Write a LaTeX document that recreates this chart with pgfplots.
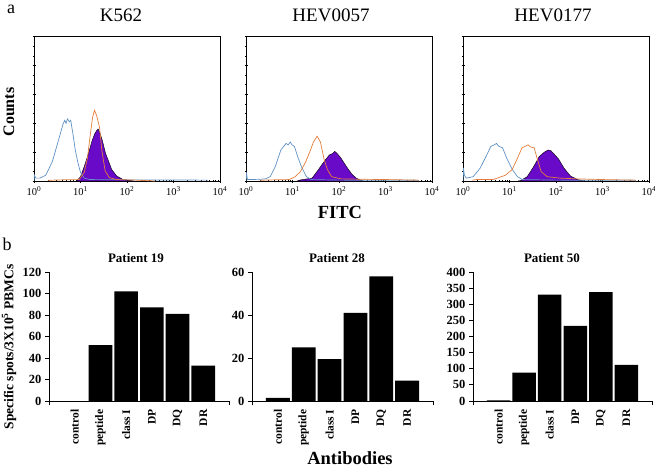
\documentclass[border=0pt]{standalone}
\usepackage{pgfplots}
\pgfplotsset{compat=1.18}
\usepackage{fontspec}
\setmainfont{Liberation Serif}
\definecolor{bl}{RGB}{95,145,195}
\definecolor{or}{RGB}{228,125,60}
\definecolor{pu}{RGB}{105,10,200}
\pgfplotsset{
 histo/.style={scale only axis, width=186pt, height=144.5pt, anchor=south west,
  xmin=0, xmax=4, ymin=0, ymax=100,
  xtick={0,1,2,3,4},
  xticklabels={10\textsuperscript{0},10\textsuperscript{1},10\textsuperscript{2},10\textsuperscript{3},10\textsuperscript{4}},
  minor xtick={0.301,0.477,0.602,0.699,0.778,0.845,0.903,0.954,
    1.301,1.477,1.602,1.699,1.778,1.845,1.903,1.954,
    2.301,2.477,2.602,2.699,2.778,2.845,2.903,2.954,
    3.301,3.477,3.602,3.699,3.778,3.845,3.903,3.954},
  ytick={0,20,...,100}, yticklabels={}, minor y tick num=2,
  xtick pos=bottom, ytick pos=left,
  tick align=center, major tick length=3pt, minor tick length=2pt,
  tick style={black, line width=0.4pt},
  axis line style={line width=0.6pt},
  xticklabel style={font=\fontsize{10.5}{11}\selectfont, yshift=-1pt},
 },
 barc/.style={scale only axis, height=129pt, anchor=south west, ybar, bar width=0.92,
  xmin=-1, xmax=6, ymin=0,
  axis x line*=bottom, axis y line*=left,
  axis line style={-, line width=0.8pt},
  xtick={-1,6}, xticklabels={},
  extra x ticks={0,1,2,3,4,5},
  extra x tick labels={control,peptide,class I,DP,DQ,DR},
  extra x tick style={major tick length=0pt,
    xticklabel style={rotate=90, anchor=east, font=\bfseries\fontsize{11.5}{11.5}\selectfont, xshift=-5pt}},
  tick align=outside, major tick length=4pt,
  tick style={black, line width=0.8pt},
  ytick pos=left,
  /pgf/number format/assume math mode=true,
  yticklabel style={font=\bfseries\fontsize{12.5}{12.5}\selectfont},
 },
}
\begin{document}
\begin{tikzpicture}
\useasboundingbox (0,0) rectangle (655pt,-467pt);
% ---------- a: histograms ----------
\begin{axis}[histo, at={(34pt,-181pt)}]
\addplot[fill=pu, draw=black, line width=0.4pt] coordinates {(0.92,0) (1.0,3) (1.08,10) (1.17,19) (1.25,28) (1.31,33) (1.35,35) (1.38,36) (1.42,33) (1.47,28) (1.5,24) (1.54,19) (1.6,14) (1.67,8) (1.78,3.4) (1.92,1) (2.05,0.5) (2.15,0)} \closedcycle;
\addplot[bl, line width=0.7pt] coordinates {(0,0) (0.01,4) (0.04,2) (0.13,2) (0.25,4) (0.3,7) (0.4,14) (0.48,23) (0.56,32) (0.62,39) (0.66,42) (0.69,40) (0.72,43) (0.76,41) (0.79,42) (0.84,32) (0.89,21) (0.95,12) (1.0,6) (1.08,2) (1.2,1) (2.0,0.8) (3.0,0.7) (3.72,0.6) (3.73,0)};
\addplot[or, line width=0.7pt] coordinates {(0.3,0.5) (0.6,0.8) (0.97,1) (1.08,6) (1.15,16) (1.21,32) (1.26,44) (1.30,49) (1.35,45) (1.41,37) (1.46,21) (1.53,7) (1.62,2.3) (1.78,1) (2.2,0.6) (2.6,0)};
\end{axis}
\begin{axis}[histo, at={(246pt,-181pt)}]
\addplot[fill=pu, draw=black, line width=0.4pt] coordinates {(1.1,0) (1.16,0.7) (1.42,2) (1.56,8) (1.68,13.5) (1.79,18) (1.86,19) (1.91,20.5) (1.96,19) (2.04,16) (2.16,10) (2.27,5) (2.37,2) (2.48,0.3) (2.53,0)} \closedcycle;
\addplot[bl, line width=0.7pt] coordinates {(0,0) (0.01,6) (0.03,1) (0.1,1) (0.3,1.2) (0.42,1.5) (0.52,3) (0.63,10) (0.75,21.5) (0.86,26) (0.91,25) (0.95,27) (0.99,25) (1.04,24) (1.11,17) (1.19,10) (1.3,3) (1.4,1) (2,0.6) (3.7,0.5) (3.71,0)};
\addplot[or, line width=0.7pt] coordinates {(0.3,0.5) (0.6,0.8) (0.93,1) (1.06,3) (1.17,6.5) (1.28,13) (1.37,20) (1.45,27) (1.53,31) (1.6,27) (1.68,15) (1.75,8) (1.84,3) (2.04,1.5) (2.5,1.2) (3.03,1) (3.7,0.6) (3.71,0)};
\end{axis}
\begin{axis}[histo, at={(463pt,-181pt)}]
\addplot[fill=pu, draw=black, line width=0.4pt] coordinates {(1.18,0) (1.24,0.3) (1.38,3) (1.52,10) (1.64,17) (1.75,20) (1.83,21.5) (1.89,21) (1.95,19) (2.06,15) (2.17,9) (2.31,3.5) (2.46,1) (2.57,0.3) (2.62,0)} \closedcycle;
\addplot[bl, line width=0.7pt] coordinates {(0,0) (0.01,9) (0.03,4) (0.07,2) (0.22,3) (0.37,9) (0.48,16) (0.6,24) (0.67,25) (0.72,26) (0.77,24) (0.85,23) (0.95,15) (1.06,8) (1.17,3) (1.28,1) (2,0.6) (3.7,0.5) (3.71,0)};
\addplot[or, line width=0.7pt] coordinates {(0.2,0.5) (0.29,1) (0.65,1) (0.91,4) (1.06,8) (1.16,15) (1.27,23) (1.34,24) (1.4,25) (1.46,23.5) (1.53,23) (1.6,15) (1.68,6.5) (1.81,3) (2.08,2) (2.44,1.5) (3.0,1) (3.7,0.6) (3.71,0)};
\end{axis}
\node[font=\fontsize{18}{18}\selectfont] at (11pt,-9pt) {a};
\node[font=\fontsize{19}{19}\selectfont] at (121pt,-15pt) {K562};
\node[font=\fontsize{19}{19}\selectfont] at (331pt,-15pt) {HEV0057};
\node[font=\fontsize{19}{19}\selectfont] at (553pt,-15pt) {HEV0177};
\node[font=\bfseries\fontsize{16}{16}\selectfont, rotate=90] at (9pt,-112pt) {Counts};
\node[font=\bfseries\fontsize{18.5}{18.5}\selectfont] at (340pt,-212pt) {FITC};
% ---------- b: bar charts ----------
\begin{axis}[barc, at={(49pt,-401pt)}, width=180pt, ymax=120, ytick={0,20,...,120}]
\addplot[fill=black, draw=none] coordinates {(0,0) (1,52) (2,102) (3,87) (4,81) (5,33)};
\end{axis}
\begin{axis}[barc, at={(252pt,-401pt)}, width=181pt, ymax=60, ytick={0,20,40,60}]
\addplot[fill=black, draw=none] coordinates {(0,1.5) (1,25) (2,19.5) (3,41) (4,58) (5,9.5)};
\end{axis}
\begin{axis}[barc, at={(473pt,-401pt)}, width=179pt, ymax=400, ytick={0,50,...,400}]
\addplot[fill=black, draw=none] coordinates {(0,2) (1,88) (2,330) (3,233) (4,338) (5,112)};
\end{axis}
\node[font=\fontsize{18}{18}\selectfont] at (7pt,-244pt) {b};
\node[font=\bfseries\fontsize{13}{13}\selectfont] at (136pt,-258pt) {Patient 19};
\node[font=\bfseries\fontsize{13}{13}\selectfont] at (337pt,-258pt) {Patient 28};
\node[font=\bfseries\fontsize{13}{13}\selectfont] at (552pt,-258pt) {Patient 50};
\node[font=\bfseries\fontsize{13.5}{13.5}\selectfont, rotate=90] at (9pt,-347pt) {Specific spots/3X10\textsuperscript{5} PBMCs};
\node[font=\bfseries\fontsize{18.5}{18.5}\selectfont] at (350pt,-458pt) {Antibodies};
\end{tikzpicture}
\end{document}
